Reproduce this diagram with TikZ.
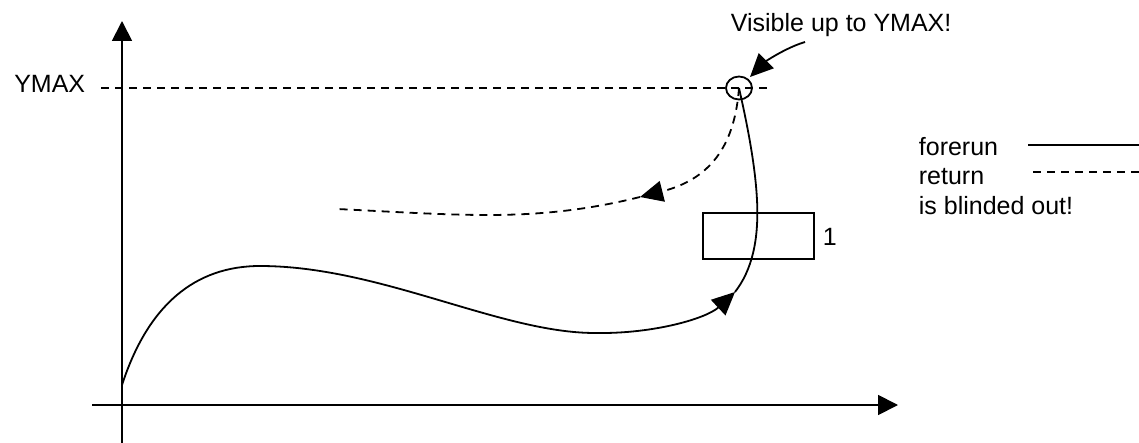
\documentclass[tikz,border=0pt]{standalone}
\usepackage{fontspec}
\setmainfont{Liberation Sans}
\usetikzlibrary{arrows.meta,shapes.geometric}
\begin{document}
\begin{tikzpicture}[x=0.5pt,y=-0.5pt,
  line width=0.9pt,
  lbl/.style={font=\fontsize{12.5pt}{15pt}\selectfont, inner sep=0pt},
  tip/.style={-{Triangle[length=10pt,width=10pt]}},
  midtip/.style={-{Triangle[length=11.5pt,width=10.5pt]}},
  dsh/.style={dash pattern=on 4pt off 3pt},
  boxnode/.style={draw, rectangle, minimum width=55.5pt, minimum height=23pt, inner sep=0pt},
  ring/.style={draw, ellipse, minimum width=13pt, minimum height=11.5pt, inner sep=0pt},
]
\useasboundingbox (0,0) rectangle (1139,443);
% axes
\coordinate (yb) at (122,443);
\coordinate (yt) at (122,21);
\coordinate (xl) at (92,405);
\coordinate (xr) at (898,405);
\draw[tip] (yb) -- (yt);
\draw[tip] (xl) -- (xr);
% YMAX line
\node[lbl, anchor=base east] (ymax) at (86,93) {YMAX};
\coordinate (ds) at (101,88);
\coordinate (de) at (770,88);
\draw[dsh] (ds) -- (de);
% circle
\node[ring] (c) at (739,88) {};
% box
\node[boxnode] (box) at (758.5,236) {};
\node[lbl, anchor=west] (one) at (822,237) {1};
% solid curve (forerun)
\coordinate (o) at (122,385);
\coordinate (p1) at (260,266);
\coordinate (p2) at (595,333);
\coordinate (a1) at (735,292);
\coordinate (p3) at (757,200);
\draw[midtip] (o) .. controls (148,305) and (195,266) .. (p1)
  .. controls (380,266) and (500,333) .. (p2)
  .. controls (655,334) and (707,318) .. (a1);
\draw (a1) .. controls (752,270) and (759,240) .. (p3)
  .. controls (755,160) and (745,115) .. (c.center);
% dashed curve (return)
\coordinate (a2) at (640,197);
\coordinate (q1) at (487,215);
\coordinate (q2) at (337,209);
\draw[dsh, midtip] (c.center) .. controls (735,140) and (715,178) .. (a2);
\draw[dsh] (a2) .. controls (580,212) and (530,215) .. (q1)
  .. controls (440,215) and (380,211) .. (q2);
% annotation
\node[lbl, anchor=base west] (vis) at (730,32) {Visible up to YMAX!};
\coordinate (vs) at (805,42);
\coordinate (vt) at (750,77);
\draw[midtip] (vs) .. controls (785,48) and (765,62) .. (vt);
% legend
\node[lbl, anchor=base west] (fr) at (918,156) {forerun};
\node[lbl, anchor=base west] (rt) at (918,185) {return};
\node[lbl, anchor=base west] (bo) at (918,214) {is blinded out!};
\coordinate (l1a) at (1028,145);
\coordinate (l1b) at (1139,145);
\coordinate (l2a) at (1033,172);
\coordinate (l2b) at (1139,172);
\draw (l1a) -- (l1b);
\draw[dsh] (l2a) -- (l2b);
\end{tikzpicture}
\end{document}
